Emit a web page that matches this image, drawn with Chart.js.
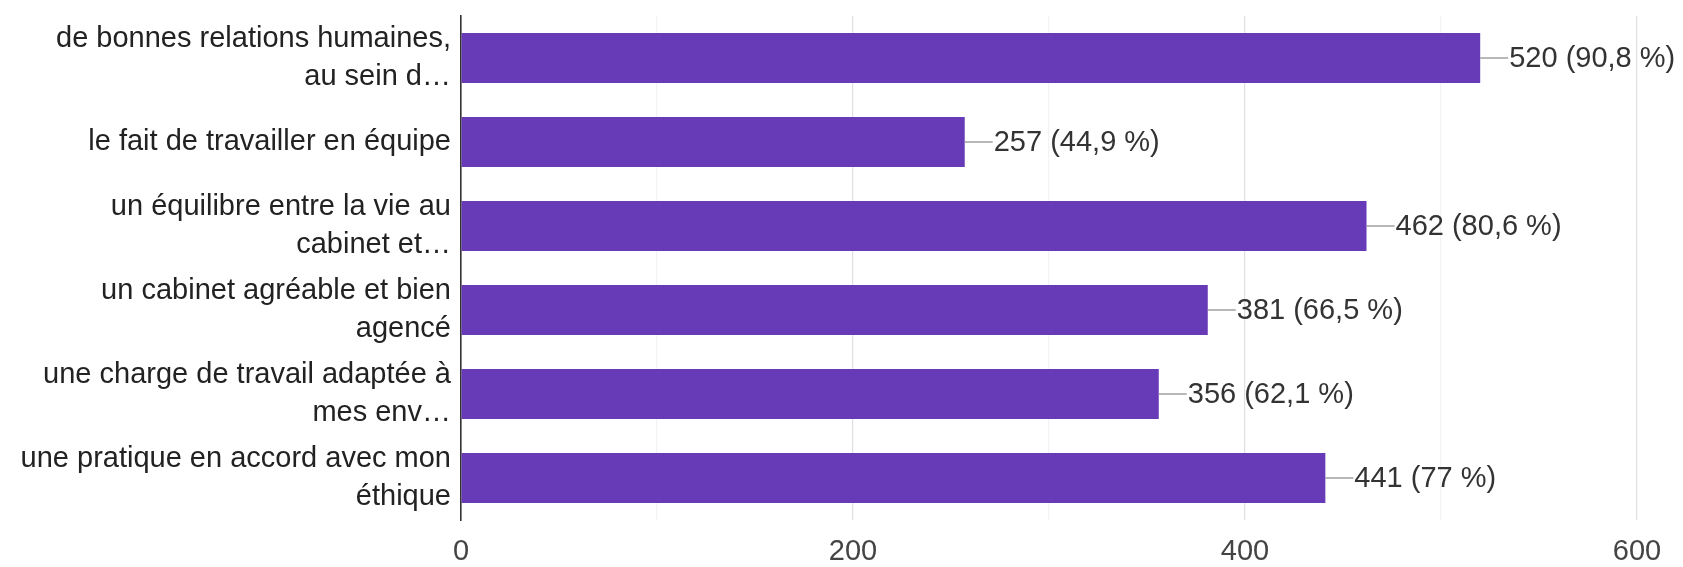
<!DOCTYPE html>
<html>
<head>
<meta charset="utf-8">
<script src="https://cdn.jsdelivr.net/npm/chart.js@4"></script>
<style>
  html, body { margin: 0; padding: 0; background: #ffffff; }
  #wrap { width: 1683px; height: 567px; position: relative; }
</style>
</head>
<body>
<div id="wrap"><canvas id="c"></canvas></div>
<script>
const categories = [
  ["de bonnes relations humaines,", "au sein d…"],
  "le fait de travailler en équipe",
  ["un équilibre entre la vie au", "cabinet et…"],
  ["un cabinet agréable et bien", "agencé"],
  ["une charge de travail adaptée à", "mes env…"],
  ["une pratique en accord avec mon", "éthique"]
];
const counts = [520, 257, 462, 381, 356, 441];
const percents = ["90,8", "44,9", "80,6", "66,5", "62,1", "77"];
const xTicksShown = [0, 200, 400, 600];

const FONT = "'Liberation Sans', Arial, sans-serif";

const valueLabels = {
  id: 'valueLabels',
  afterDatasetsDraw(chart) {
    const ctx = chart.ctx;
    const meta = chart.getDatasetMeta(0);
    ctx.save();
    meta.data.forEach((bar, i) => {
      const x = bar.x, y = bar.y;
      ctx.strokeStyle = '#888888';
      ctx.lineWidth = 1.2;
      ctx.beginPath();
      ctx.moveTo(x, y);
      ctx.lineTo(x + 28, y);
      ctx.stroke();
      ctx.fillStyle = '#333333';
      ctx.font = "29px " + FONT;
      ctx.textAlign = 'left';
      ctx.textBaseline = 'middle';
      ctx.fillText(counts[i] + ' (' + percents[i] + ' %)', x + 29, y + 1);
    });
    ctx.restore();
  }
};

new Chart(document.getElementById('c'), {
  type: 'bar',
  data: {
    labels: categories,
    datasets: [{
      data: counts,
      backgroundColor: '#673ab7',
      borderWidth: 0,
      barPercentage: 0.595,
      categoryPercentage: 1.0
    }]
  },
  options: {
    indexAxis: 'y',
    responsive: true,
    maintainAspectRatio: false,
    animation: false,
    devicePixelRatio: 1,
    layout: { padding: { top: 16, right: 46, left: 0, bottom: 0 } },
    plugins: { legend: { display: false }, tooltip: { enabled: false } },
    scales: {
      x: {
        min: 0, max: 600,
        ticks: {
          stepSize: 100,
          autoSkip: false,
          maxRotation: 0,
          padding: 15,
          color: '#444444',
          font: { family: FONT, size: 29 },
          callback: (v) => xTicksShown.includes(v) ? String(v) : ''
        },
        grid: {
          drawTicks: false,
          color: (c) => (c.tick && c.tick.value % 200 === 0) ? '#e0e0e0' : '#f3f3f3',
          lineWidth: 1.2
        },
        border: { display: false },
        afterFit(scale) { scale.height = 47; scale.paddingLeft = 0; scale.paddingRight = 0; }
      },
      y: {
        ticks: {
          padding: 10,
          color: '#222222',
          font: { family: FONT, size: 29, lineHeight: 1.31 }
        },
        grid: { display: false, drawTicks: false },
        border: { display: true, color: '#333333', width: 1.6 },
        afterFit(scale) { scale.width = 461; scale.paddingTop = 0; scale.paddingBottom = 0; }
      }
    }
  },
  plugins: [valueLabels]
});
</script>
</body>
</html>
